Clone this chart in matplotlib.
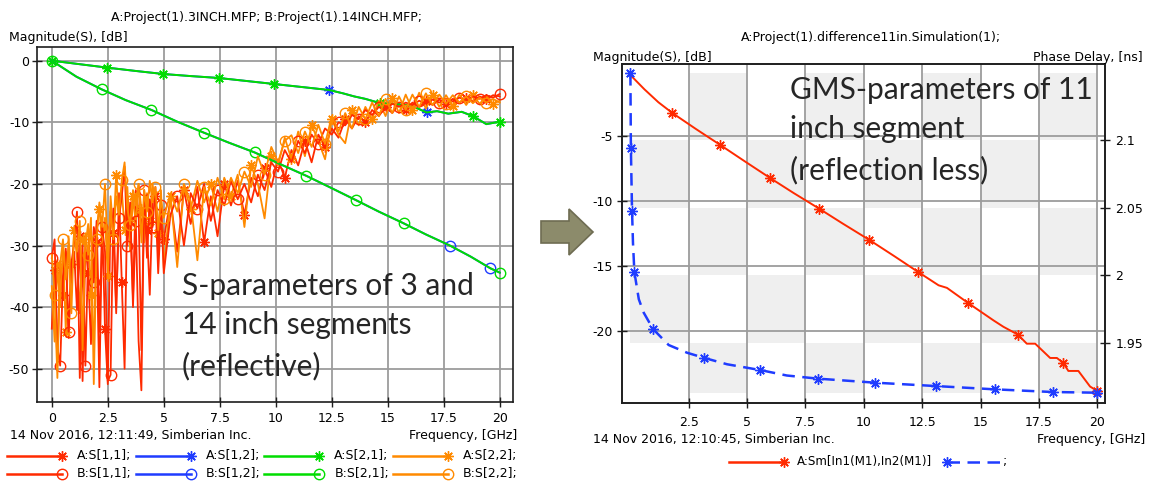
import numpy as np
import matplotlib
matplotlib.use("Agg")
import matplotlib.pyplot as plt
from matplotlib.patches import Rectangle, Polygon
from matplotlib.ticker import FuncFormatter

plt.rcParams["font.family"] = "DejaVu Sans"
plt.rcParams["font.size"] = 9
plt.rcParams["axes.unicode_minus"] = False

# ---------------------------------------------------------------
# Left chart: S-parameters of the 3 inch (A) and 14 inch (B) lines
# ---------------------------------------------------------------
# reflection sweeps: fine step below 5 GHz, coarser step above
REFL_STEP_LOW = 0.125
REFL_START_HIGH = 5.3
REFL_STEP_HIGH = 0.3

a_s11_low = [-43.5, -34.0, -49.5, -32.5, -38.0, -30.5, -45.0, -33.0, -31.0, -40.5,
             -28.5, -52.0, -30.0, -34.5, -46.0, -27.0, -29.5, -53.0, -26.0, -43.5,
             -52.5, -24.5, -28.0, -41.0, -21.5, -36.0, -50.0, -22.0, -26.0, -38.5,
             -21.0, -24.5, -47.0, -22.5, -27.5, -38.0, -23.0, -22.0, -34.5, -25.0,
             -29.0]
a_s11_high = [-22.5, -31.0, -21.0, -26.5, -20.5, -29.5, -22.0, -28.5, -20.0, -23.5,
              -19.5, -25.0, -19.0, -22.0, -17.5, -20.5, -16.0, -19.0, -14.5, -17.0,
              -13.0, -16.5, -12.0, -14.0, -11.0, -12.5, -9.5, -11.0, -9.0, -10.0,
              -8.0, -9.0, -7.5, -8.5, -7.0, -8.0, -6.8, -7.5, -6.5, -7.2,
              -6.3, -7.0, -6.2, -6.8, -6.0, -6.6, -5.8, -6.3, -5.6, -5.8]

b_s11_low = [-32.0, -29.0, -46.5, -49.5, -35.0, -31.0, -44.0, -33.0, -29.5, -24.5,
             -51.5, -30.0, -49.5, -31.0, -27.0, -36.0, -26.0, -44.0, -27.0, -31.0,
             -52.0, -51.0, -24.0, -40.0, -25.5, -22.0, -17.2, -30.0, -23.0, -40.0,
             -26.0, -45.5, -53.5, -21.0, -32.0, -22.5, -27.0, -20.5, -31.0, -23.5,
             -34.5]
b_s11_high = [-25.0, -22.0, -30.0, -21.5, -24.0, -20.0, -26.0, -21.0, -23.5, -19.5,
              -22.5, -20.0, -23.0, -18.5, -21.0, -16.5, -18.0, -14.5, -16.5, -13.0,
              -15.0, -12.0, -13.5, -11.0, -12.0, -10.0, -10.5, -8.8, -9.5, -8.0,
              -8.8, -7.5, -8.0, -7.0, -7.5, -6.8, -7.2, -6.5, -7.0, -6.3,
              -6.8, -6.2, -6.6, -6.0, -6.4, -5.8, -6.2, -5.6, -6.0, -5.4]

a_s22_low = [-36.6, -45.6, -33.0, -40.0, -30.0, -44.0, -28.5, -36.0, -27.5, -32.0,
             -41.0, -29.0, -30.0, -26.5, -38.0, -46.2, -27.0, -24.0, -30.0, -25.5,
             -35.0, -22.0, -28.0, -18.5, -26.0, -21.0, -27.5, -20.5, -31.0, -22.0,
             -26.5, -20.0, -24.0, -29.5, -21.5, -26.0, -20.0, -23.5, -28.0, -21.0,
             -33.7]
a_s22_high = [-22.0, -33.5, -20.5, -24.0, -19.5, -23.0, -20.0, -24.5, -19.0, -22.0,
              -18.5, -27.0, -17.0, -20.0, -25.6, -15.5, -17.0, -12.5, -16.0, -11.5,
              -15.5, -10.5, -13.0, -16.0, -9.5, -12.0, -13.4, -8.0, -10.5, -7.5,
              -9.5, -6.5, -9.0, -6.0, -8.5, -5.5, -8.0, -5.2, -7.8, -5.5,
              -7.5, -5.6, -7.4, -5.5, -7.2, -5.6, -7.0, -5.8, -7.0, -6.5]

b_s22_low = [-31.5, -38.0, -51.5, -33.0, -29.0, -35.5, -30.0, -41.0, -27.0, -31.0,
             -26.0, -47.0, -28.0, -31.5, -25.5, -52.5, -29.0, -23.0, -27.0, -20.0,
             -31.5, -24.5, -29.0, -22.0, -25.0, -19.4, -16.5, -24.0, -26.6, -21.0,
             -23.5, -20.0, -29.5, -21.0, -24.5, -19.5, -23.0, -20.5, -27.5, -22.5,
             -25.5]
b_s22_high = [-21.5, -24.5, -20.0, -23.0, -32.4, -20.5, -23.5, -19.0, -22.5, -19.0,
              -21.5, -18.0, -20.5, -15.5, -18.5, -14.0, -16.5, -13.0, -12.1, -15.0,
              -11.5, -14.0, -10.4, -13.5, -9.0, -11.5, -8.5, -11.0, -7.5, -9.5,
              -6.8, -9.0, -6.2, -8.5, -5.8, -8.0, -5.5, -7.5, -5.3, -7.2,
              -5.5, -7.0, -5.6, -6.8, -5.8, -6.9, -6.0, -6.8, -6.2, -6.8]

# transmission of the 3 inch line (S21 = S12)
a_s21_freq = [0.0, 1.2, 2.48, 3.7, 4.97, 6.2, 7.46, 8.7, 9.91, 11.1, 12.38, 13.0, 13.5,
              14.0, 14.66, 15.2, 15.8, 16.3, 16.73, 17.2, 17.7, 18.3, 18.8, 19.4, 20.0]
a_s21_db = [0.0, -0.55, -1.13, -1.65, -2.16, -2.5, -2.81, -3.3, -3.78, -4.25, -4.76, -5.3, -5.8,
            -6.2, -6.9, -7.0, -7.2, -7.7, -8.4, -8.2, -8.6, -8.3, -9.0, -10.3, -9.9]
a_s21_marks = [0, 2, 4, 6, 8, 14, 22, 24]
a_s12_marks = [10, 18]

# transmission of the 14 inch line (S21 = S12)
b_s21_freq = [0.0, 1.1, 2.22, 3.3, 4.45, 5.6, 6.8, 7.9, 9.06, 10.2, 11.37, 12.5, 13.56,
              14.6, 15.71, 16.7, 17.77, 18.7, 19.58, 20.0]
b_s21_db = [0.0, -2.6, -4.64, -6.4, -8.0, -9.9, -11.7, -13.3, -14.9, -16.8, -18.7, -20.7, -22.6,
            -24.5, -26.4, -28.2, -30.0, -31.8, -33.7, -34.4]
b_s21_marks = [0, 2, 4, 6, 8, 10, 12, 14, 19]
b_s12_marks = [16, 18]

left_xticks = [0, 2.5, 5, 7.5, 10, 12.5, 15, 17.5, 20]
left_yticks = [0, -10, -20, -30, -40, -50]
left_legend = ["A:S[1,1];", "A:S[1,2];", "A:S[2,1];", "A:S[2,2];",
               "B:S[1,1];", "B:S[1,2];", "B:S[2,1];", "B:S[2,2];"]

# ---------------------------------------------------------------
# Right chart: generalized modal S of the 11 inch difference segment
# ---------------------------------------------------------------
sm_freq = [0.0, 0.6, 1.2, 1.8, 2.8, 3.85, 4.9, 5.99, 7.0, 8.09, 9.1, 10.23, 11.3, 12.33,
           13.2, 13.56, 14.47, 15.55, 15.98, 16.6, 16.98, 17.34, 17.98, 18.27, 18.55,
           18.76, 19.19, 19.69, 20.0]
sm_db = [-0.3, -1.4, -2.4, -3.23, -4.45, -5.69, -6.95, -8.24, -9.4, -10.6, -11.75, -13.0,
         -14.25, -15.48, -16.5, -16.7, -17.87, -19.2, -19.7, -20.3, -21.0, -21.0, -22.1,
         -22.1, -22.5, -23.1, -23.1, -24.3, -24.65]
sm_marks = [3, 5, 7, 9, 11, 13, 16, 19, 24, 28]

pd_freq = [0.0, 0.02, 0.07, 0.11, 0.17, 0.36, 0.57, 0.97, 1.64, 2.43, 3.14, 4.14, 5.57,
           6.7, 8.02, 10.49, 13.1, 15.6, 18.1, 20.0]
pd_ns = [2.1493, 2.0939, 2.0478, 2.024, 2.0024, 1.9823, 1.9724, 1.9603, 1.9485, 1.9428,
         1.9391, 1.9343, 1.9300, 1.926, 1.9237, 1.9207, 1.9182, 1.9158, 1.9138, 1.9133]
pd_marks = [0, 1, 2, 4, 7, 10, 12, 14, 15, 16, 17, 18, 19]

right_xticks = [2.5, 5, 7.5, 10, 12.5, 15, 17.5, 20]
right_yticks = [-5, -10, -15, -20]
delay_ticks = [1.95, 2.0, 2.05, 2.1]

# ---------------------------------------------------------------
RED = "#ff2a00"
BLUE = "#1f3cff"
GREEN = "#00dd00"
ORANGE = "#ff8a00"
GRID = "#9c9c9c"
SHADE = "#efefef"
FRAME = "#1e1e1e"
ASTER = (8, 2, 0)
gfmt = FuncFormatter(lambda v, p: f"{v:g}")

W, H = 1151, 483
fig = plt.figure(figsize=(W / 100, H / 100), dpi=100)


def px_axes(x0, y0, x1, y1):
    return fig.add_axes([x0 / W, 1 - y1 / H, (x1 - x0) / W, (y1 - y0) / H])


def sweep(low, high):
    return np.r_[np.arange(len(low)) * REFL_STEP_LOW,
                 REFL_START_HIGH + np.arange(len(high)) * REFL_STEP_HIGH]


def style_frame(ax):
    for s in ax.spines.values():
        s.set_color(FRAME)
        s.set_linewidth(1.2)


# ---------------- left chart ----------------
axL = px_axes(37, 47, 513, 402)
lw_r = 1.3
ms = 7.5
star_kw = dict(marker=ASTER, ms=ms, mew=1.0)
circ_kw = dict(marker="o", ms=ms, mew=1.0, mfc="none")

axL.plot(sweep(a_s11_low, a_s11_high), a_s11_low + a_s11_high, color=RED, lw=lw_r,
         markevery=(1, 3), **star_kw)
axL.plot(a_s21_freq, a_s21_db, color=BLUE, lw=1.4, markevery=a_s12_marks, **star_kw)
axL.plot(a_s21_freq, a_s21_db, color=GREEN, lw=1.4, markevery=a_s21_marks, **star_kw)
axL.plot(sweep(a_s22_low, a_s22_high), a_s22_low + a_s22_high, color=ORANGE, lw=lw_r,
         markevery=(2, 3), **star_kw)
axL.plot(sweep(b_s11_low, b_s11_high), b_s11_low + b_s11_high, color=RED, lw=lw_r,
         markevery=(0, 3), **circ_kw)
axL.plot(b_s21_freq, b_s21_db, color=BLUE, lw=1.4, markevery=b_s12_marks, **circ_kw)
axL.plot(b_s21_freq, b_s21_db, color=GREEN, lw=1.4, markevery=b_s21_marks, **circ_kw)
axL.plot(sweep(b_s22_low, b_s22_high), b_s22_low + b_s22_high, color=ORANGE, lw=lw_r,
         markevery=(1, 3), **circ_kw)

axL.set_xlim(-0.66, 20.59)
axL.set_ylim(-55.4, 2.22)
axL.set_xticks(left_xticks)
axL.set_yticks(left_yticks)
axL.xaxis.set_major_formatter(gfmt)
axL.yaxis.set_major_formatter(gfmt)
axL.grid(True, color=GRID, lw=1.3)
axL.tick_params(direction="inout", length=7, width=1, color=FRAME, labelsize=9)
axL.tick_params(axis="x", pad=3.5)
axL.tick_params(axis="y", pad=2)
style_frame(axL)

# ---------------- right chart ----------------
axR = px_axes(622, 64, 1105, 403)
axP = axR.twinx()
axR.set_xlim(-0.36, 20.33)
axR.set_ylim(-25.57, 0.55)
axP.set_ylim(1.9057, 2.156)

# checkered background following the frequency and delay tick grid
x_edges = [pd_freq[0]] + [t for t in right_xticks if pd_freq[0] < t < pd_freq[-1]] + [pd_freq[-1]]
y_edges = [min(pd_ns)] + [t for t in delay_ticks if min(pd_ns) < t < max(pd_ns)] + [max(pd_ns)]
for i in range(len(x_edges) - 1):
    for k in range(len(y_edges) - 1):
        if (i + k) % 2 == 1:
            axR.add_patch(Rectangle((x_edges[i], y_edges[k]),
                                    x_edges[i + 1] - x_edges[i], y_edges[k + 1] - y_edges[k],
                                    transform=axP.transData, facecolor=SHADE,
                                    edgecolor="none", zorder=0.5))

axR.plot(sm_freq, sm_db, color=RED, lw=1.4, markevery=sm_marks, **star_kw)
axP.plot(pd_freq, pd_ns, color=BLUE, lw=1.8, ls=(0, (5, 3)), markevery=pd_marks, **star_kw)

axR.set_xlim(-0.36, 20.33)
axR.set_ylim(-25.57, 0.55)
axP.set_ylim(1.9057, 2.156)
axR.set_xticks(right_xticks)
axR.set_yticks(right_yticks)
axP.set_yticks(delay_ticks)
for a in (axR, axP):
    a.xaxis.set_major_formatter(gfmt)
    a.yaxis.set_major_formatter(gfmt)
axR.grid(True, color=GRID, lw=1.3)
axR.tick_params(direction="inout", length=7, width=1, color=FRAME, labelsize=9)
axR.tick_params(axis="x", pad=5.5)
axR.tick_params(axis="y", pad=3)
axP.tick_params(direction="inout", length=7, width=1, color=FRAME, labelsize=9, pad=4)
style_frame(axR)
style_frame(axP)

# ---------------- overlay: captions, legends, arrow ----------------
ov = fig.add_axes([0, 0, 1, 1])
ov.set_xlim(0, W)
ov.set_ylim(H, 0)
ov.axis("off")
ov.patch.set_visible(False)

ov.text(267, 17, "A:Project(1).3INCH.MFP; B:Project(1).14INCH.MFP;", ha="center", va="center")
ov.text(9, 38, "Magnitude(S), [dB]", ha="left", va="center")
ov.text(10, 435, "14 Nov 2016, 12:11:49, Simberian Inc.", ha="left", va="center")
ov.text(517, 435, "Frequency, [GHz]", ha="right", va="center")

ov.text(871, 38, "A:Project(1).difference11in.Simulation(1);", ha="center", va="center")
ov.text(593, 58, "Magnitude(S), [dB]", ha="left", va="center")
ov.text(1143, 58, "Phase Delay, [ns]", ha="right", va="center")
ov.text(593, 440, "14 Nov 2016, 12:10:45, Simberian Inc.", ha="left", va="center")
ov.text(1145, 440, "Frequency, [GHz]", ha="right", va="center")

# large annotations (y is the baseline of the last line)
big = dict(family="Lato", fontsize=21.5, color="#262626", va="baseline", ha="left",
           linespacing=1.5)
ov.text(182, 375, "S-parameters of 3 and\n14 inch segments\n(reflective)", **big)
ov.text(790, 179, "GMS-parameters of 11\ninch segment\n(reflection less)", **big)

# left legend: two rows (A with asterisks, B with circles), four columns
leg_colors = [RED, BLUE, GREEN, ORANGE]
for n, label in enumerate(left_legend):
    col, row = n % 4, n // 4
    x0 = 7 + col * 128.7
    y = 456 + row * 18
    c = leg_colors[col]
    ov.plot([x0, x0 + 55], [y, y], color=c, lw=1.8)
    mk = star_kw if row == 0 else circ_kw
    ov.plot([x0 + 55], [y], color=c, **mk)
    ov.text(x0 + 70, y, label, ha="left", va="center")

# right legend
ov.plot([729, 784], [462, 462], color=RED, lw=1.8)
ov.plot([784], [462], color=RED, **star_kw)
ov.text(797, 462, "A:Sm[In1(M1),In2(M1)]", ha="left", va="center", fontsize=8.6)
ov.plot([947, 1000], [462, 462], color=BLUE, lw=1.8, ls=(0, (5, 3)))
ov.plot([947], [462], color=BLUE, **star_kw)
ov.text(1003, 462, ";", ha="left", va="center")

# block arrow between the two charts
ov.add_patch(Polygon([(541, 221), (569, 221), (569, 209), (593, 232), (569, 255),
                      (569, 243), (541, 243)], closed=True, facecolor="#8c8b6b",
                     edgecolor="#6e6c52", lw=1.2))

fig.savefig("out.png", dpi=100)
